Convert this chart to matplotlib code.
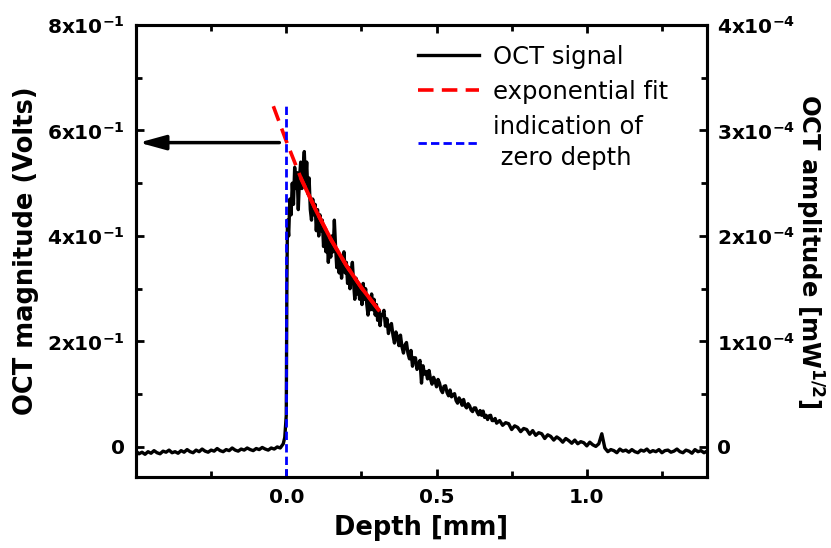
import numpy as np
import matplotlib
matplotlib.use('Agg')
import matplotlib.pyplot as plt

##### DADOS #####
# linha de base antes da superficie: -0.50 ... -0.02 mm, passo 0.01
base_y = [-0.008, -0.013, -0.010, -0.014, -0.009, -0.012, -0.007, -0.011, -0.013, -0.008,
          -0.010, -0.006, -0.011, -0.009, -0.012, -0.007, -0.010, -0.005, -0.009, -0.011,
          -0.006, -0.009, -0.004, -0.008, -0.010, -0.006, -0.008, -0.003, -0.007, -0.009,
          -0.005, -0.007, -0.002, -0.006, -0.008, -0.004, -0.006, -0.002, -0.005, -0.007,
          -0.003, -0.005, -0.001, -0.004, -0.006, -0.002, -0.004, 0.000, -0.002]
# subida na superficie
edge_x = [-0.010, -0.005, 0.000, 0.002]
edge_y = [0.006, 0.018, 0.060, 0.300]
# pico e decaimento inicial: 0.004 ... 0.316 mm, passo 0.004
peak_y = [0.43, 0.40, 0.47, 0.44, 0.50, 0.46, 0.53, 0.49, 0.52, 0.45,
          0.51, 0.54, 0.49, 0.53, 0.56, 0.50, 0.54, 0.48, 0.51, 0.45,
          0.43, 0.47, 0.44, 0.46, 0.41, 0.45, 0.40, 0.44, 0.41, 0.43,
          0.38, 0.41, 0.37, 0.40, 0.35, 0.39, 0.36, 0.40, 0.37, 0.43,
          0.38, 0.34, 0.37, 0.33, 0.36, 0.32, 0.35, 0.37, 0.33, 0.35,
          0.31, 0.34, 0.30, 0.33, 0.35, 0.31, 0.28, 0.32, 0.29, 0.31,
          0.28, 0.30, 0.27, 0.31, 0.28, 0.30, 0.27, 0.25, 0.28, 0.26,
          0.29, 0.26, 0.28, 0.25, 0.27, 0.24, 0.26, 0.23, 0.25]
# cauda: 0.320 ... 0.700 mm, passo 0.005
tail_y = [0.250, 0.259, 0.229, 0.243, 0.215, 0.229, 0.234, 0.212, 0.197, 0.218,
          0.208, 0.192, 0.212, 0.190, 0.178, 0.193, 0.198, 0.177, 0.167, 0.183,
          0.153, 0.169, 0.169, 0.147, 0.157, 0.164, 0.121, 0.154, 0.138, 0.143,
          0.129, 0.145, 0.129, 0.119, 0.132, 0.125, 0.114, 0.128, 0.121, 0.108,
          0.103, 0.115, 0.116, 0.103, 0.097, 0.108, 0.095, 0.099, 0.101, 0.088,
          0.083, 0.093, 0.088, 0.079, 0.090, 0.078, 0.074, 0.082, 0.078, 0.070,
          0.067, 0.074, 0.074, 0.066, 0.061, 0.069, 0.060, 0.068, 0.056, 0.060,
          0.052, 0.059, 0.060, 0.050, 0.050, 0.054, 0.045]
# final: 0.71 ... 1.40 mm, passo 0.01
end_y = [0.050, 0.041, 0.046, 0.044, 0.033, 0.040, 0.037, 0.029, 0.035, 0.033,
         0.024, 0.031, 0.022, 0.027, 0.025, 0.016, 0.023, 0.020, 0.013, 0.019,
         0.015, 0.009, 0.016, 0.012, 0.007, 0.013, 0.006, 0.010, 0.008, 0.002,
         0.009, 0.004, 0.001, 0.006, 0.025, -0.002, -0.009, -0.005, -0.007, -0.011,
         -0.004, -0.008, -0.006, -0.010, -0.005, -0.009, -0.011, -0.006, -0.008, -0.004,
         -0.010, -0.007, -0.009, -0.005, -0.011, -0.007, -0.006, -0.010, -0.008, -0.004,
         -0.009, -0.011, -0.006, -0.008, -0.012, -0.005, -0.009, -0.007, -0.011, -0.008]

# ajuste exponencial (pontos lidos sobre a curva vermelha)
fit_x = [-0.043, 0.000, 0.050, 0.100, 0.150, 0.200, 0.250, 0.307]
fit_y = [0.646, 0.580, 0.508, 0.447, 0.392, 0.344, 0.302, 0.260]
fit_solid_from = 0.05

zero_top = 0.651        # topo da linha azul
arrow_y = 0.577         # altura da seta
arrow_x = (-0.023, -0.49)

y_ticks = [0, 0.2, 0.4, 0.6, 0.8]
y_labels = ['0', r'$\mathbf{2x10^{-1}}$', r'$\mathbf{4x10^{-1}}$', r'$\mathbf{6x10^{-1}}$', r'$\mathbf{8x10^{-1}}$']
r_ticks = [0, 1e-4, 2e-4, 3e-4, 4e-4]
r_labels = ['0', r'$\mathbf{1x10^{-4}}$', r'$\mathbf{2x10^{-4}}$', r'$\mathbf{3x10^{-4}}$', r'$\mathbf{4x10^{-4}}$']
x_ticks = [0.0, 0.5, 1.0]
x_labels = ['0.0', '0.5', '1.0']
escala_direita = 5e-4   # V -> mW^1/2

##### montagem do sinal #####
depth = np.concatenate([
    -0.50 + 0.01 * np.arange(len(base_y)),
    edge_x,
    0.004 + 0.004 * np.arange(len(peak_y)),
    0.320 + 0.005 * np.arange(len(tail_y)),
    0.71 + 0.01 * np.arange(len(end_y)),
])
signal = np.concatenate([base_y, edge_y, peak_y, tail_y, end_y])

##### grafico #####
fig = plt.figure(figsize=(8.31, 5.48), dpi=100)
ax = fig.add_axes([136/831, 1-477/548, (707-136)/831, (477-25)/548])
ylim = (-0.057, 0.80)

ax.plot(depth, signal, color='black', lw=2.4, label='OCT signal', zorder=2)
ax.plot(fit_x, fit_y, color='red', lw=2.6, ls=(0, (4.3, 2.3)), label='exponential fit', zorder=3)
fx = np.array(fit_x); fy = np.array(fit_y)
ax.plot(fx[fx >= fit_solid_from], fy[fx >= fit_solid_from], color='red', lw=2.8, zorder=3)
ax.plot([0, 0], [ylim[0], zero_top], color='blue', lw=2.0, ls=(0, (3, 1.5)),
        label='indication of\n zero depth', zorder=4)

ax.annotate('', xy=(arrow_x[1], arrow_y), xytext=(arrow_x[0], arrow_y),
            arrowprops=dict(arrowstyle='-|>,head_length=0.8,head_width=0.22',
                            lw=2.5, color='black', mutation_scale=20, shrinkA=0, shrinkB=0))

ax.set_xlim(-0.5, 1.4)
ax.set_ylim(*ylim)
ax.set_xticks(x_ticks)
ax.set_xticklabels(x_labels)
ax.set_xticks([-0.25, 0.25, 0.75, 1.25], minor=True)
ax.set_yticks(y_ticks)
ax.set_yticklabels(y_labels)
ax.set_yticks([0.1, 0.3, 0.5, 0.7], minor=True)

ax2 = ax.twinx()
ax2.set_ylim(ylim[0]*escala_direita, ylim[1]*escala_direita)
ax2.set_yticks(r_ticks)
ax2.set_yticklabels(r_labels)
ax2.set_yticks([0.5e-4, 1.5e-4, 2.5e-4, 3.5e-4], minor=True)

for a in (ax, ax2):
    for s in a.spines.values():
        s.set_linewidth(2.2)
ax.tick_params(which='both', direction='in', top=True, width=2, labelsize=14.5, pad=8)
ax.tick_params(which='major', length=6)
ax.tick_params(which='minor', length=4)
ax2.tick_params(which='both', direction='in', width=2, labelsize=14.5, pad=7)
ax2.tick_params(which='major', length=6)
ax2.tick_params(which='minor', length=4)
for lab in ax.get_xticklabels() + ax.get_yticklabels() + ax2.get_yticklabels():
    lab.set_fontweight('bold')

ax.set_xlabel('Depth [mm]', fontsize=18.5, fontweight='bold', labelpad=6)
ax.set_ylabel('OCT magnitude (Volts)', fontsize=18.5, fontweight='bold', labelpad=6)
ax2.set_ylabel(r'OCT amplitude [mW$^{\mathbf{1/2}}$]', fontsize=17.5, fontweight='bold',
               rotation=270, labelpad=22)

leg = ax.legend(loc='upper left', bbox_to_anchor=(418/831, 1-45/548), bbox_transform=fig.transFigure,
                frameon=False, fontsize=17.5, handlelength=2.5, handletextpad=0.6,
                labelspacing=0.45, borderpad=0, borderaxespad=0)
leg.get_texts()[2].set_linespacing(1.35)

fig.savefig('out.png', dpi=100)
